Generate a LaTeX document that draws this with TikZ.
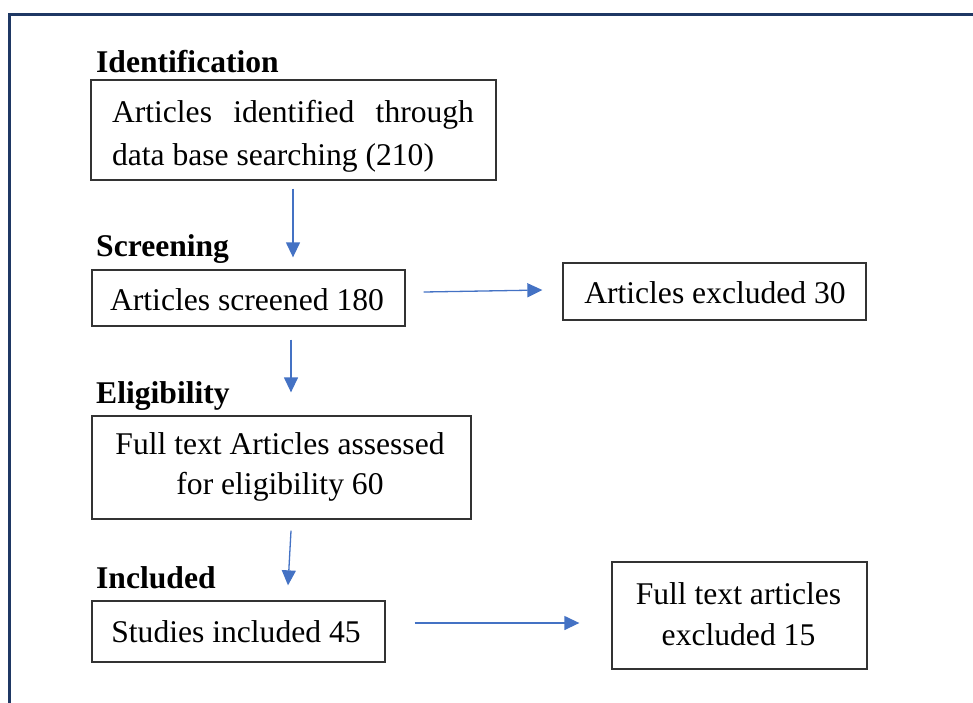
\documentclass[tikz,border=0pt]{standalone}
\usepackage{fontspec}
\setmainfont{Liberation Serif}
\usetikzlibrary{arrows.meta,calc}
\definecolor{framenavy}{HTML}{1F3864}
\definecolor{arrowblue}{HTML}{4472C4}
\begin{document}
\begin{tikzpicture}[x=1pt,y=-1pt,
  box/.style={draw=black!80,line width=1.3pt,rectangle,inner sep=0pt},
  txt/.style={font=\fontsize{31.6}{41}\selectfont,align=center,inner sep=0pt},
  stagehead/.style={font=\fontsize{31.6}{38}\selectfont\bfseries,anchor=base west,inner sep=0pt},
  arr/.style={draw=arrowblue,line width=1.3pt,-{Triangle[length=15pt,width=14pt]}},
]
\useasboundingbox (0,0) rectangle (973,702);
\clip (0,0) rectangle (973,702);
\draw[framenavy,line width=3pt] (9.5,730) -- (9.5,14) -- (1000,14);

% stage headings
\node[stagehead] (h1) at (96,72) {Identification};
\node[stagehead] (h2) at (96,256) {Screening};
\node[stagehead] (h3) at (96,403) {Eligibility};
\node[stagehead] (h4) at (96,588) {Included};

% boxes
\node[box,minimum width=405pt,minimum height=100pt] (b1) at (293.5,130) {};
\node[box,minimum width=313pt,minimum height=56pt] (b2) at (248.5,298) {};
\node[box,minimum width=303pt,minimum height=57pt] (b3) at (714.5,291.5) {};
\node[box,minimum width=379pt,minimum height=103pt] (b4) at (281.5,467.5) {};
\node[box,minimum width=293pt,minimum height=61pt] (b5) at (238.5,631.5) {};
\node[box,minimum width=255pt,minimum height=107pt] (b6) at (739.5,615.5) {};

% texts
\node[txt,align=left,font=\fontsize{31.6}{43}\selectfont] (t1) at (293,136) {\makebox[362pt][s]{Articles identified through}\\data base searching (210)};
\node[txt] (t2) at (247,300) {Articles screened 180};
\node[txt] (t3) at (715,293) {Articles excluded 30};
\node[txt,font=\fontsize{31.6}{39.5}\selectfont] (t4) at (280,467) {Full text Articles assessed\\for eligibility 60};
\node[txt] (t5) at (236,632) {Studies included 45};
\node[txt] (t6) at (738.5,614.5) {Full text articles\\excluded 15};

% connectors
\draw[arr] ($(b1.south)+(-0.5,8)$) -- ($(b2.north)+(44.5,-12)$);
\draw[arr] ($(b2.east)+(18,-6)$) -- ($(b3.west)+(-20,-1.5)$);
\draw[arr] ($(b2.south)+(42.5,13)$) -- ($(b4.north)+(9.5,-23)$);
\draw[arr] ($(b4.south)+(9.5,11)$) -- ($(b5.north)+(49.5,-15)$);
\draw[arr] ($(b5.east)+(29,-8.5)$) -- ($(b6.west)+(-32,7.5)$);
\end{tikzpicture}
\end{document}
